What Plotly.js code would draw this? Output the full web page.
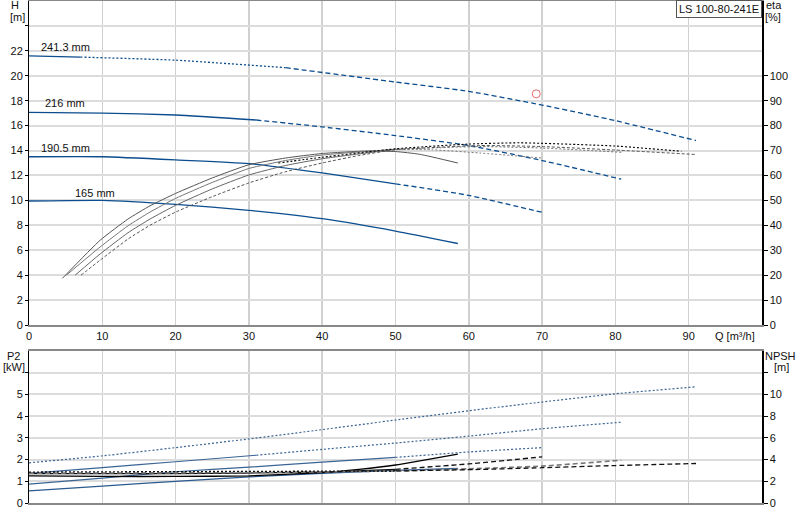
<!DOCTYPE html>
<html><head><meta charset="utf-8">
<script src="https://cdn.plot.ly/plotly-3.0.1.min.js"></script>
<style>html,body{margin:0;padding:0;background:#fff}#c{width:800px;height:520px}</style>
</head><body><div id="c"></div>
<script>
// ---- data: head curves H [m] vs Q [m3/h]
const qH241 = [0, 7, 20, 35, 50, 60, 70, 80, 91];
const h241  = [21.6, 21.5, 21.25, 20.65, 19.5, 18.75, 17.65, 16.4, 14.8];
const qH216 = [0, 10, 20, 31, 40, 50, 60, 70, 80.8];
const h216  = [17.07, 17.0, 16.85, 16.45, 15.9, 15.2, 14.4, 13.2, 11.7];
const qH190 = [0, 10, 20, 30, 40, 50, 60, 70];
const h190  = [13.5, 13.5, 13.25, 12.95, 12.2, 11.33, 10.4, 9.04];
const qH165 = [0, 10, 20, 30, 40, 50, 58.5];
const h165  = [9.95, 10.0, 9.68, 9.2, 8.53, 7.54, 6.54];
const diamLabels = ["241.3 mm", "216 mm", "190.5 mm", "165 mm"];
const diamLabelQ = [5.0, 4.9, 5.0, 9.0];
const diamLabelH = [22.3, 17.8, 14.2, 10.6];

// ---- efficiency curves eta [%]
const qEA = [4.55, 9.7, 13.5, 16.5, 20, 25, 30, 35, 40, 46, 50, 53.3, 58.5];
const eA  = [18.7, 34, 42.5, 47.8, 52.8, 59, 64.3, 67, 68.8, 69.8, 69.6, 68.5, 65];
const qEB = [5.1, 9.7, 13.5, 16.5, 20, 25, 30, 35, 40, 50, 55, 61.5, 70];
const eB  = [20, 31.3, 39.8, 45.3, 50.8, 57.2, 62.8, 66, 68.2, 70.5, 70.3, 69, 67];
const qEC = [6.3, 9.7, 13.5, 16.5, 20, 25, 30, 35, 40, 50, 61.5, 70, 80.8];
const eC  = [20, 28.5, 37, 42.5, 48, 54.6, 60.2, 64, 66.7, 70.5, 71.6, 71, 69.3];
const qED = [7.1, 9.7, 13.5, 16.5, 20, 25, 30, 35, 40, 45, 50, 61.5, 70, 80, 91];
const eD  = [20, 26, 34.5, 40, 45.3, 51.5, 57, 61.5, 65, 68, 70.3, 72, 71.6, 70.2, 68.4];
const qEE = [34, 40, 50, 60, 67, 80, 89];
const eE  = [65, 67.3, 70.7, 72.6, 73.1, 71.8, 69.7];

// ---- duty point
const dutyQ = [69.2];
const dutyH = [18.55];

// ---- power P2 [kW]
const qP241 = [0, 10, 20, 30, 40, 50, 60, 70, 80, 91];
const p241  = [1.85, 2.17, 2.55, 2.95, 3.38, 3.82, 4.25, 4.65, 5.03, 5.35];
const qP216 = [0, 10, 20, 31, 40, 50, 60, 70, 80.8];
const p216  = [1.36, 1.63, 1.9, 2.2, 2.47, 2.76, 3.08, 3.42, 3.72];
const qP190 = [0, 10, 20, 30, 40, 50, 60, 70];
const p190  = [0.87, 1.15, 1.44, 1.65, 1.88, 2.1, 2.35, 2.55];
const qP165 = [0, 10, 20, 30, 40, 50, 58.5];
const p165  = [0.56, 0.78, 1.0, 1.2, 1.36, 1.5, 1.59];

// ---- NPSH [m]
const qN165 = [0, 10, 20, 30, 40, 45, 50, 58.5];
const n165  = [2.5, 2.45, 2.45, 2.5, 2.8, 3.1, 3.5, 4.5];
const qN190 = [0, 20, 40, 50, 60, 70];
const n190  = [2.7, 2.7, 2.85, 3.1, 3.6, 4.25];
const qN216 = [0, 30, 50, 60, 70, 80.8];
const n216  = [2.75, 2.8, 2.95, 3.15, 3.4, 3.94];
const qN241 = [0, 50, 61.5, 70, 80, 91];
const n241  = [2.85, 2.95, 3.09, 3.25, 3.45, 3.64];

// ---- tick labels
const qTicks = [0, 10, 20, 30, 40, 50, 60, 70, 80, 90];
const hTicks = [0, 2, 4, 6, 8, 10, 12, 14, 16, 18, 20, 22, 24];
const hTickText = ["0","2","4","6","8","10","12","14","16","18","20","22",""];
const etaTicks = [0, 10, 20, 30, 40, 50, 60, 70, 80, 90, 100];
const pTicks = [0, 1, 2, 3, 4, 5, 6];
const pTickText = ["0","1","2","3","4","5",""];
const nTicks = [0, 2, 4, 6, 8, 10, 12];
const nTickText = ["0","2","4","6","8","10",""];

const traces = [];
function seg(q, v, breaks, styles, color, width, xa, ya) {
  for (let i = 0; i < styles.length; i++) {
    traces.push({
      x: q.slice(breaks[i], breaks[i+1] + 1),
      y: v.slice(breaks[i], breaks[i+1] + 1),
      xaxis: xa, yaxis: ya, type: 'scatter', mode: 'lines',
      line: {color: color, width: width, dash: styles[i], shape: 'spline', smoothing: 0.5},
      hoverinfo: 'skip', showlegend: false
    });
  }
}
const BLUE = '#0b4d8e';
const DOT = '2px,2px', DASH = '5px,3px', SDASH = '3px,2px';
// head
seg(qH241, h241, [0,1,3,8], ['solid',DOT,DASH], BLUE, 1.3, 'x', 'y');
seg(qH216, h216, [0,3,8], ['solid',DASH], BLUE, 1.3, 'x', 'y');
seg(qH190, h190, [0,5,7], ['solid',DASH], BLUE, 1.3, 'x', 'y');
seg(qH165, h165, [0,6], ['solid'], BLUE, 1.3, 'x', 'y');
// eta
seg(qEA, eA, [0,12], ['solid'], '#555555', 1, 'x', 'y2');
seg(qEB, eB, [0,9,12], ['solid',DOT], '#777777', 1, 'x', 'y2');
seg(qEC, eC, [0,9,12], ['solid',DOT], '#666666', 1, 'x', 'y2');
seg(qED, eD, [0,14], [SDASH], '#555555', 1, 'x', 'y2');
seg(qEE, eE, [0,6], [DOT], '#000000', 1.1, 'x', 'y2');
// duty point
traces.push({x: dutyQ, y: dutyH, xaxis:'x', yaxis:'y', type:'scatter', mode:'markers',
  marker:{symbol:'circle-open', size:8, color:'#e86a6a', line:{width:1}}, hoverinfo:'skip', showlegend:false});
// P2
seg(qP241, p241, [0,9], [DOT], '#3a6494', 1.2, 'x2', 'y3');
seg(qP216, p216, [0,3,8], ['solid',DOT], '#3a6494', 1.2, 'x2', 'y3');
seg(qP190, p190, [0,5,7], ['solid',DOT], '#3a6494', 1.2, 'x2', 'y3');
seg(qP165, p165, [0,6], ['solid'], '#2a5a8f', 1.2, 'x2', 'y3');
// NPSH
seg(qN165, n165, [0,7], ['solid'], '#000000', 1.4, 'x2', 'y4');
seg(qN190, n190, [0,3,5], ['solid',DASH], '#111111', 1.3, 'x2', 'y4');
seg(qN216, n216, [0,5], [DASH], '#777777', 1.6, 'x2', 'y4');
seg(qN241, n241, [0,1,5], [DOT,DASH], '#111111', 1.3, 'x2', 'y4');

// paper coordinate helpers for text placement
const px = v => (v - 29) / 733;
const py = v => (503 - v) / 502;
const F = 'Arial, "Liberation Sans", sans-serif';
const ann = [];
function txt(t, x, y, opts) {
  ann.push(Object.assign({text: t, xref:'paper', yref:'paper', x: px(x), y: py(y),
    xanchor:'center', yanchor:'middle', showarrow:false, font:{family:F, size:11, color:'#111'}}, opts || {}));
}
txt('H', 15, 5); txt('[m]', 17, 17.5);
txt('eta', 774, 5); txt('[%]', 773, 17);
txt('Q [m³/h]', 735, 336);
txt('P2', 13, 356); txt('[kW]', 14, 367);
txt('NPSH', 780, 356); txt('[m]', 781, 367);
ann.push({text:'LS 100-80-241E', xref:'paper', yref:'paper', x:1, y:py(0), xanchor:'right', yanchor:'top',
  showarrow:false, font:{family:F, size:11, color:'#111'}, bordercolor:'#555', borderwidth:1, borderpad:2, bgcolor:'#fff'});
for (let i = 0; i < diamLabels.length; i++) {
  ann.push({text: diamLabels[i], xref:'x', yref:'y', x: diamLabelQ[i], y: diamLabelH[i],
    xanchor:'center', yanchor:'middle', showarrow:false, font:{family:F, size:11, color:'#111'}});
}

const GRID = '#dcdcdc';
const layout = {
  width: 800, height: 520,
  margin: {l: 29, r: 38, t: 1, b: 17},
  paper_bgcolor: '#fff', plot_bgcolor: '#fff',
  font: {family: F, size: 11, color: '#111'},
  showlegend: false,
  xaxis: {domain:[0,1], anchor:'y', range:[0,100], tickvals: qTicks, showgrid:true, gridcolor:'#d0d0d0', gridwidth:1.5,
    zeroline:false, showline:true, linecolor:'#888', linewidth:2, mirror:true, ticks:'', tickfont:{size:11}},
  yaxis: {domain:[py(325), 1], anchor:'x', range:[0,26], tickvals: hTicks, ticktext: hTickText,
    showgrid:true, gridcolor:GRID, gridwidth:2, zeroline:false, showline:true, linecolor:'#000', linewidth:1,
    ticks:'outside', ticklen:3, tickcolor:'#000'},
  yaxis2: {overlaying:'y', side:'right', anchor:'x', range:[0,130], tickvals: etaTicks, showgrid:false, zeroline:false,
    showline:true, linecolor:'#000', linewidth:1.5, ticks:'outside', ticklen:4, tickcolor:'#000'},
  xaxis2: {domain:[0,1], anchor:'y3', range:[0,100], tickvals: qTicks, showticklabels:false, showgrid:true,
    gridcolor:'#d0d0d0', gridwidth:1.5, zeroline:false, showline:true, linecolor:'#888', linewidth:2, mirror:true, ticks:''},
  yaxis3: {domain:[0, py(351)], anchor:'x2', range:[0,7], tickvals: pTicks, ticktext: pTickText,
    showgrid:true, gridcolor:GRID, gridwidth:2, zeroline:false, showline:true, linecolor:'#000', linewidth:1,
    ticks:'outside', ticklen:3, tickcolor:'#000'},
  yaxis4: {overlaying:'y3', side:'right', anchor:'x2', range:[0,14], tickvals: nTicks, ticktext: nTickText,
    showgrid:false, zeroline:false, showline:true, linecolor:'#000', linewidth:1.5, ticks:'outside', ticklen:4, tickcolor:'#000'},
  annotations: ann
};
Plotly.newPlot('c', traces, layout, {staticPlot:true, displayModeBar:false});
</script></body></html>
